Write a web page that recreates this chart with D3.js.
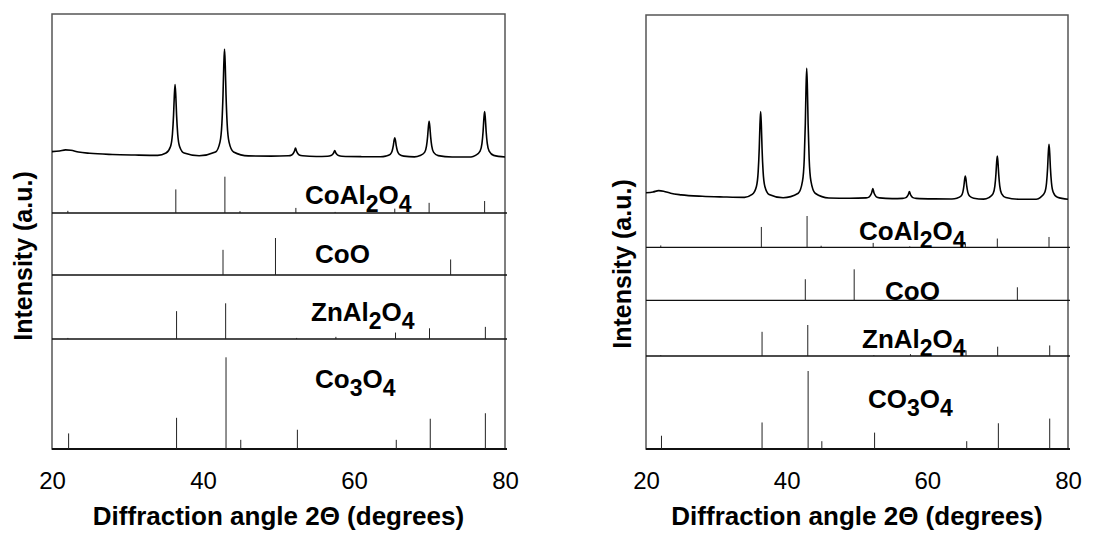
<!DOCTYPE html>
<html>
<head>
<meta charset="utf-8">
<script src="https://cdn.jsdelivr.net/npm/d3@7"></script>
<style>
  body { margin: 0; background: #fff; }
  svg text { font-family: 'Liberation Sans', Arial, sans-serif; fill: #000; }
</style>
</head>
<body>
<svg id="chart" width="1102" height="534"></svg>
<script>
// measured XRD pattern, [2theta, relative intensity], main peak = 100
var pattern = [
  [20, 5], [21, 5.6], [21.8, 6.6], [22.5, 6.2], [23.5, 4.6], [25, 3.4], [28, 2.3], [31, 1.8], [34, 1.5],
  [35.1, 3.7], [35.7, 9.8], [35.95, 21.1], [36.1, 38.8], [36.2, 56.5], [36.3, 67],
  [36.4, 56.5], [36.5, 38.8], [36.65, 21.1], [36.9, 9.8], [37.5, 3.7], [39.5, 1.2],
  [41.65, 4.6], [42.25, 13.8], [42.5, 30.8], [42.65, 57.5], [42.75, 84.2], [42.85, 100],
  [42.95, 84.2], [43.05, 57.5], [43.2, 30.8], [43.45, 13.8], [44.05, 4.6], [46, 1.0], [49, 0.8],
  [51.3, 1.1], [51.75, 1.9], [51.95, 3.3], [52.1, 5.2], [52.25, 8.3],
  [52.4, 5.2], [52.55, 3.3], [52.75, 1.9], [53.2, 1.1], [55, 0.5],
  [56.5, 0.7], [56.95, 1.3], [57.15, 2.3], [57.3, 3.7], [57.45, 6],
  [57.6, 3.7], [57.75, 2.3], [57.95, 1.3], [58.4, 0.7], [61, 0.3], [63.5, 0.2],
  [64.2, 0.8], [64.8, 2.5], [65.05, 5.5], [65.2, 10.2], [65.3, 15], [65.4, 17.8],
  [65.5, 15], [65.6, 10.2], [65.75, 5.5], [66, 2.5], [66.6, 0.8], [68, 0.1],
  [68.75, 1.3], [69.35, 4.3], [69.6, 10], [69.75, 18.9], [69.85, 27.7], [69.95, 33],
  [70.05, 27.7], [70.15, 18.9], [70.3, 10], [70.55, 4.3], [71.15, 1.3], [73, 0.05], [75.5, 0],
  [76.1, 1.5], [76.7, 5.4], [76.95, 12.6], [77.1, 23.9], [77.2, 35.3], [77.3, 42],
  [77.4, 35.3], [77.5, 23.9], [77.65, 12.6], [77.9, 5.4], [78.5, 1.5], [80, 0]
]

// reference stick patterns, [2theta, I %]
var refCoAl2O4 = [[22.1, 6], [36.4, 65], [42.9, 100], [44.9, 5], [52.3, 14], [57.5, 3], [65.4, 12], [69.95, 28], [77.3, 33]]
var refCoO = [[42.65, 68], [49.6, 100], [72.8, 42]]
var refZnAl2O4 = [[22.1, 3], [36.5, 78], [43.0, 100], [52.4, 3], [57.6, 6], [65.5, 18], [70.0, 30], [77.4, 34]]
var refCo3O4 = [[22.2, 17], [36.5, 34], [43.05, 100], [45.0, 10], [52.5, 21], [65.6, 10], [70.1, 33], [77.4, 39]]
var refs = [refCoAl2O4, refCoO, refZnAl2O4, refCo3O4]

var xTicks = [20, 40, 60, 80]
var namesLeft = ['CoAl_2O_4', 'CoO', 'ZnAl_2O_4', 'Co_3O_4']
var namesRight = ['CoAl_2O_4', 'CoO', 'ZnAl_2O_4', 'CO_3O_4']

var svg = d3.select('#chart')

var panels = [
  {
    left: 52, right: 505, top: 14, bottom: 449,
    patBase: 157, patTop: 49,
    bands: [{y: 213, h: 36.3}, {y: 275, h: 37}, {y: 339, h: 35.7}, {y: 449, h: 91.7}],
    labels: [[305, 204], [315, 263], [311, 321], [315, 388]],
    names: namesLeft,
    yTitle: [32, 256]
  },
  {
    left: 646, right: 1068, top: 15, bottom: 449,
    patBase: 199.3, patTop: 68.3,
    bands: [{y: 247.3, h: 31.3}, {y: 300.3, h: 31}, {y: 356, h: 31}, {y: 449, h: 78}],
    labels: [[859, 240], [885, 300], [862, 348], [868, 408]],
    names: namesRight,
    yTitle: [631, 264]
  }
]

function drawPanel(p){
  var g = svg.append('g')
  var x = d3.scaleLinear().domain([20, 80]).range([p.left, p.right])
  var yPat = d3.scaleLinear().domain([0, 100]).range([p.patBase, p.patTop])

  // frame
  g.append('rect')
    .attr('x', p.left).attr('y', p.top)
    .attr('width', p.right - p.left).attr('height', p.bottom - p.top)
    .attr('fill', 'none').attr('stroke', '#555').attr('stroke-width', 1.5)

  // band separators + stick lines
  p.bands.forEach(function(b, i){
    var yb = d3.scaleLinear().domain([0, 100]).range([b.y, b.y - b.h])
    g.append('line')
      .attr('x1', p.left).attr('x2', p.right + 2)
      .attr('y1', b.y).attr('y2', b.y)
      .attr('stroke', '#111').attr('stroke-width', i == 3 ? 2 : 1.3)

    g.selectAll('line.stick' + i).data(refs[i]).enter().append('line')
      .attr('class', 'stick' + i)
      .attr('x1', d => x(d[0])).attr('x2', d => x(d[0]))
      .attr('y1', yb(0)).attr('y2', d => yb(d[1]))
      .attr('stroke', '#222').attr('stroke-width', 1)

    var parts = p.names[i].split(/_(\d)/)
    var t = g.append('text')
      .attr('x', p.labels[i][0]).attr('y', p.labels[i][1])
      .attr('font-size', 26).attr('font-weight', 'bold')
    parts.forEach(function(s, j){
      if (!s) return
      var sub = j % 2 == 1
      var prevSub = j > 0 && (j - 1) % 2 == 1
      t.append('tspan').text(s)
        .attr('font-size', sub ? 23 : 26)
        .attr('dy', sub ? 8 : (prevSub ? -8 : 0))
    })
  })

  // measured pattern
  var line = d3.line()
    .x(d => x(d[0]))
    .y(d => yPat(d[1]))
    .curve(d3.curveMonotoneX)

  g.append('path').datum(pattern)
    .attr('d', line)
    .attr('fill', 'none').attr('stroke', '#000').attr('stroke-width', 1.6)
    .attr('stroke-linejoin', 'round')

  // x axis
  var ax = g.append('g')
    .attr('transform', 'translate(0,' + p.bottom + ')')
    .call(d3.axisBottom(x).tickValues(xTicks).tickSize(0).tickPadding(23))
  ax.select('.domain').remove()
  ax.selectAll('text')
    .attr('font-size', 24)
    .attr('font-family', "'Liberation Sans', Arial, sans-serif")
    .attr('fill', '#000')

  g.append('text')
    .attr('x', (p.left + p.right)/2).attr('y', 525)
    .attr('text-anchor', 'middle')
    .attr('font-size', 26).attr('font-weight', 'bold')
    .text('Diffraction angle 2\u0398 (degrees)')

  g.append('text')
    .attr('transform', 'translate(' + p.yTitle[0] + ',' + p.yTitle[1] + ') rotate(-90)')
    .attr('text-anchor', 'middle')
    .attr('font-size', 25).attr('font-weight', 'bold')
    .text('Intensity (a.u.)')
}

panels.forEach(drawPanel)
</script>
</body>
</html>
